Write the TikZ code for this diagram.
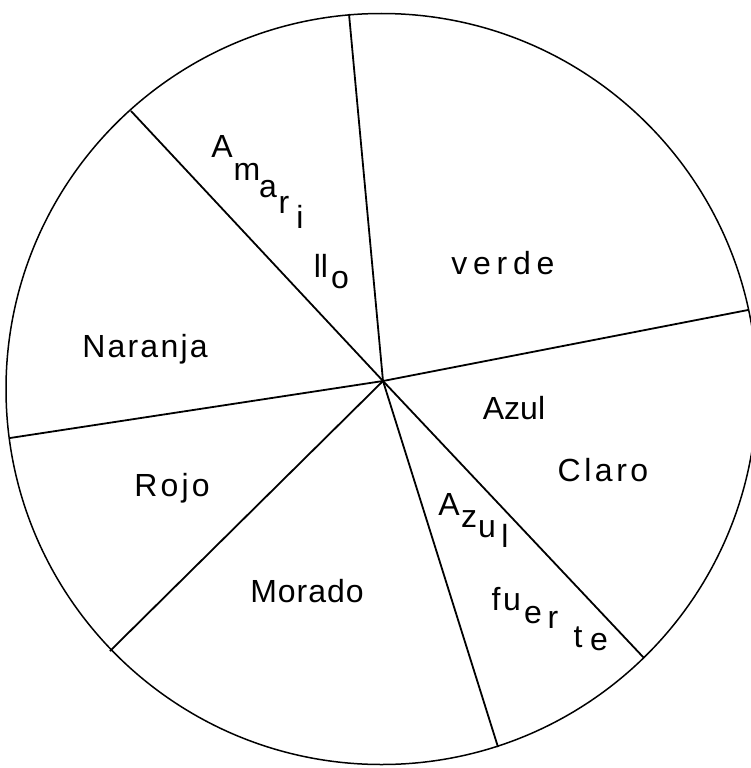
\documentclass[tikz,border=0pt]{standalone}
\usepackage{fontspec}
\setmainfont{Liberation Sans}
\begin{document}
\begin{tikzpicture}[x=1pt,y=-1pt,
  edge/.style={line width=1.8pt, black},
  rim/.style={line width=1.5pt, black},
  lbl/.style={font=\fontsize{32}{34}\selectfont, inner sep=0pt, anchor=base},
  ltr/.style={font=\fontsize{32}{34}\selectfont, inner sep=0pt, anchor=base}]
\useasboundingbox (0,0) rectangle (750,768);
% circle
\coordinate (cc) at (381.5,389);
\draw[rim] (cc) circle[radius=375.5];
% hub and rim points
\coordinate (hub) at (383,381);
\coordinate (pT) at (349,14);
\coordinate (pUL) at (131,111);
\coordinate (pL) at (10,438);
\coordinate (pLL) at (110,651);
\coordinate (pB) at (498,747);
\coordinate (pLR) at (644,658);
\coordinate (pR) at (748,310);
\foreach \p in {pT,pUL,pL,pLL,pB,pLR,pR} \draw[edge] (hub) -- (\p);
% labels
\node[lbl] (verde) at (503,274) {\addfontfeatures{LetterSpace=18}verde};
\node[lbl] (naranja) at (145,357) {\addfontfeatures{LetterSpace=7}Naranja};
\node[lbl] (rojo) at (172,496) {\addfontfeatures{LetterSpace=10}Rojo};
\node[lbl] (morado) at (307,602) {\addfontfeatures{LetterSpace=3}Morado};
\node[lbl] (azul1) at (514,419) {Azul};
\node[lbl] (claro) at (603,481) {\addfontfeatures{LetterSpace=11}Claro};
% Amarillo, letter by letter
\node[ltr] (am1) at (222,157) {A};
\node[ltr] (am2) at (247,180) {m};
\node[ltr] (am3) at (268,197) {a};
\node[ltr] (am4) at (284,213) {r};
\node[ltr] (am5) at (300,228) {i};
\node[ltr] (am6) at (321,277) {ll};
\node[ltr] (am7) at (340,288) {o};
% Azul fuerte, letter by letter
\node[ltr] (af1) at (449,515) {A};
\node[ltr] (af2) at (469,527) {z};
\node[ltr] (af3) at (487,537) {u};
\node[ltr] (af4) at (505,547) {l};
\node[ltr] (fu1) at (496,610) {f};
\node[ltr] (fu2) at (512,610) {u};
\node[ltr] (fu3) at (533,623) {e};
\node[ltr] (fu4) at (553,628) {r};
\node[ltr] (fu5) at (578,647) {t};
\node[ltr] (fu6) at (599,650) {e};
\end{tikzpicture}
\end{document}
